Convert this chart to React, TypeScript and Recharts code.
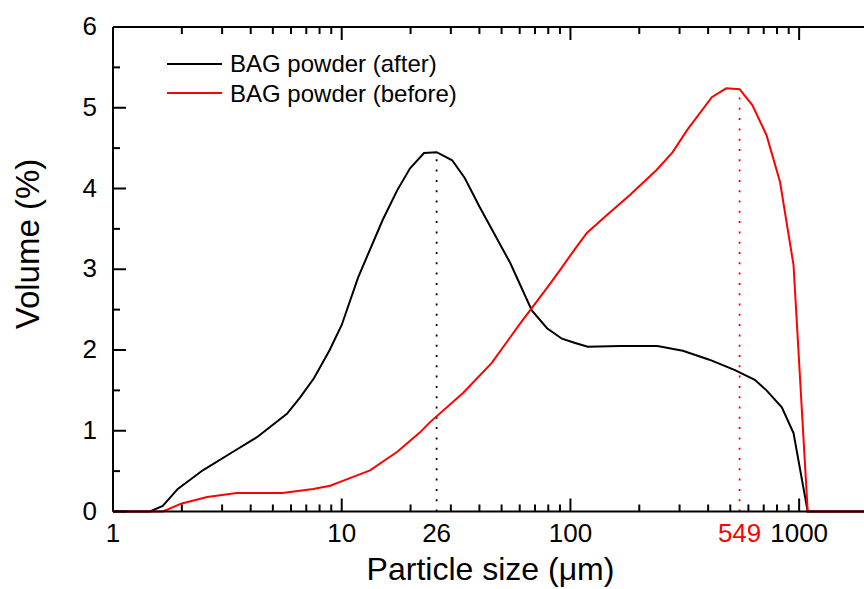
import { LineChart, Line, XAxis, YAxis, ReferenceLine, Legend, Label } from 'recharts';

// particle size distribution
const afterSize = [1, 1.45, 1.65, 1.92, 2.47, 3.35, 4.26, 5.76, 6.57, 7.56, 8.86, 10, 11.8, 15.1, 17.5, 19.9, 22.9, 26, 30.4, 34.5, 40.1, 54.5, 67.8, 79, 91.8, 104, 119, 165, 240, 310, 405, 524, 640, 720, 840, 945, 1090, 2000];
const afterVolume = [0, 0, 0.07, 0.28, 0.51, 0.74, 0.92, 1.21, 1.41, 1.65, 2.0, 2.31, 2.9, 3.61, 3.98, 4.25, 4.44, 4.45, 4.35, 4.13, 3.77, 3.08, 2.49, 2.27, 2.14, 2.09, 2.04, 2.05, 2.05, 1.99, 1.88, 1.75, 1.63, 1.5, 1.29, 0.97, 0, 0];

const beforeSize = [1, 1.65, 2.0, 2.58, 3.48, 5.5, 7.5, 8.9, 10.1, 13.3, 17.5, 22, 24.4, 34, 45.3, 60, 79, 90, 104, 118, 144, 182, 238, 280, 323, 415, 480, 549, 625, 720, 825, 945, 1090, 2000];
const beforeVolume = [0, 0, 0.1, 0.18, 0.23, 0.23, 0.28, 0.32, 0.38, 0.51, 0.74, 0.98, 1.11, 1.47, 1.84, 2.32, 2.77, 2.99, 3.24, 3.45, 3.67, 3.92, 4.23, 4.45, 4.72, 5.13, 5.24, 5.23, 5.03, 4.66, 4.08, 3.05, 0, 0];

const modeAfter = 26;
const modeBefore = 549;

const majorX = [1, 10, 100, 1000];
const minorX = [2, 3, 4, 5, 6, 7, 8, 9, 20, 30, 40, 50, 60, 70, 80, 90, 200, 300, 400, 500, 600, 700, 800, 900];
const labelX = [1, 10, 26, 100, 549, 1000];
const yTicks = [0, 0.5, 1, 1.5, 2, 2.5, 3, 3.5, 4, 4.5, 5, 5.5, 6];

const xTicks = Array.from(new Set([...majorX, ...minorX, ...labelX])).sort((a, b) => a - b);

const afterData = afterSize.map((s, i) => ({ size: s, volume: afterVolume[i] }));
const beforeData = beforeSize.map((s, i) => ({ size: s, volume: beforeVolume[i] }));

const FONT = '"Liberation Sans", Arial, sans-serif';

const tickLen = (v: number) => (majorX.includes(v) ? 13 : minorX.includes(v) ? 7 : 0);

const BottomTick = ({ x, y, payload }: any) => {
    const v = payload.value;
    const len = tickLen(v);
    return (
        <g>
            {len > 0 && <line x1={x} x2={x} y1={y} y2={y - len} stroke="#000" strokeWidth={2} />}
            {labelX.includes(v) && (
                <text x={x} y={y + 30.5} textAnchor="middle" fontSize={26} fontFamily={FONT} fill={v === modeBefore ? '#ff0000' : '#000'}>
                    {v}
                </text>
            )}
        </g>
    );
};

const TopTick = ({ x, y, payload }: any) => {
    const len = tickLen(payload.value);
    if (!len) return <g />;
    return <line x1={x} x2={x} y1={y} y2={y + len} stroke="#000" strokeWidth={2} />;
};

const LeftTick = ({ x, y, payload }: any) => {
    const v = payload.value;
    const major = Number.isInteger(v);
    return (
        <g>
            <line x1={x} x2={x + (major ? 13 : 7)} y1={y} y2={y} stroke="#000" strokeWidth={2} />
            {major && (
                <text x={x - 16} y={y + 8} textAnchor="end" fontSize={26} fontFamily={FONT} fill="#000">
                    {v}
                </text>
            )}
        </g>
    );
};

const RightTick = ({ x, y, payload }: any) => {
    const major = Number.isInteger(payload.value);
    return <line x1={x} x2={x - (major ? 13 : 7)} y1={y} y2={y} stroke="#000" strokeWidth={2} />;
};

const LegendBox = () => (
    <svg width={320} height={80} style={{ display: 'block' }}>
        <line x1={7} x2={62} y1={24} y2={24} stroke="#000" strokeWidth={2} />
        <text x={70} y={32} fontSize={24} fontFamily={FONT} fill="#000">BAG powder (after)</text>
        <line x1={7} x2={62} y1={53} y2={53} stroke="#ff0000" strokeWidth={2} />
        <text x={70} y={61.5} fontSize={24} fontFamily={FONT} fill="#000">BAG powder (before)</text>
    </svg>
);

const axisLine = { stroke: '#000', strokeWidth: 2 };

export default function App() {
    return (
        <div style={{ position: 'fixed', left: 0, top: 0, width: 864, height: 589, overflow: 'hidden', background: '#fff' }}>
            <LineChart width={880} height={589} margin={{ top: 26, right: 11, bottom: 76.5, left: 112 }}>
                <XAxis
                    dataKey="size"
                    type="number"
                    scale="log"
                    domain={[1, 2000]}
                    allowDataOverflow
                    ticks={xTicks}
                    interval={0}
                    height={1}
                    tickSize={0}
                    tickMargin={0}
                    axisLine={axisLine}
                    tick={<BottomTick />}
                >
                    <Label
                        content={({ viewBox }: any) => (
                            <text x={(viewBox?.x ?? 113) + (viewBox?.width ?? 755) / 2} y={580} textAnchor="middle" fontSize={32} fontFamily={FONT} fill="#000">
                                Particle size (μm)
                            </text>
                        )}
                    />
                </XAxis>
                <XAxis
                    xAxisId="top"
                    orientation="top"
                    dataKey="size"
                    type="number"
                    scale="log"
                    domain={[1, 2000]}
                    allowDataOverflow
                    ticks={xTicks}
                    interval={0}
                    height={1}
                    tickSize={0}
                    tickMargin={0}
                    axisLine={axisLine}
                    tick={<TopTick />}
                />
                <YAxis
                    type="number"
                    domain={[0, 6]}
                    ticks={yTicks}
                    interval={0}
                    width={1}
                    tickSize={0}
                    tickMargin={0}
                    axisLine={axisLine}
                    tick={<LeftTick />}
                >
                    <Label
                        content={() => (
                            <text x={39} y={244} transform="rotate(-90 39 244)" textAnchor="middle" fontSize={33} fontFamily={FONT} fill="#000">
                                Volume (%)
                            </text>
                        )}
                    />
                </YAxis>
                <YAxis
                    yAxisId="right"
                    orientation="right"
                    type="number"
                    domain={[0, 6]}
                    ticks={yTicks}
                    interval={0}
                    width={1}
                    tickSize={0}
                    tickMargin={0}
                    axisLine={axisLine}
                    tick={<RightTick />}
                />

                <ReferenceLine
                    segment={[{ x: modeAfter, y: 0 }, { x: modeAfter, y: 4.4 }]}
                    stroke="#000"
                    strokeWidth={1.8}
                    strokeDasharray="2 8.3"
                />
                <ReferenceLine
                    segment={[{ x: modeBefore, y: 0 }, { x: modeBefore, y: 5.18 }]}
                    stroke="#ff0000"
                    strokeWidth={1.8}
                    strokeDasharray="2 8.3"
                />

                <Line data={afterData} dataKey="volume" name="BAG powder (after)" type="linear" stroke="#000" strokeWidth={2} dot={false} isAnimationActive={false} />
                <Line data={beforeData} dataKey="volume" name="BAG powder (before)" type="linear" stroke="#ff0000" strokeWidth={2} dot={false} isAnimationActive={false} />

                <Legend
                    layout="horizontal"
                    verticalAlign="middle"
                    align="center"
                    content={() => <LegendBox />}
                    wrapperStyle={{ position: 'absolute', left: 160, top: 40, width: 320, height: 80 }}
                />
            </LineChart>
        </div>
    );
}
